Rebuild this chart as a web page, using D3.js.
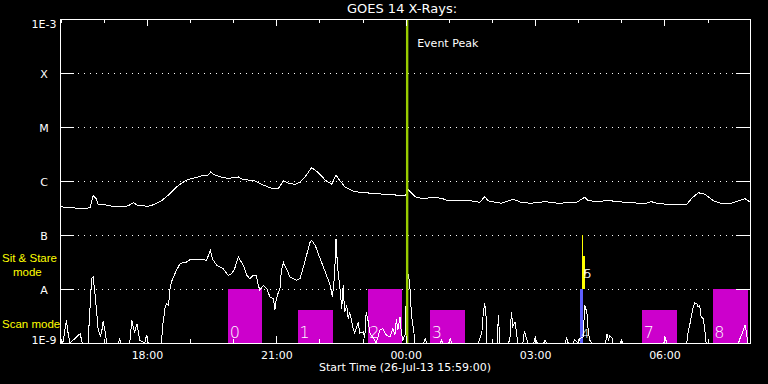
<!DOCTYPE html>
<html><head><meta charset="utf-8">
<script src="https://cdn.jsdelivr.net/npm/d3@7"></script>
<style>html,body{margin:0;padding:0;background:#000;}svg{display:block;}</style>
</head><body>
<svg id="chart" width="768" height="384"></svg>
<script>
// ---------- data ----------
const chartTitle = "GOES 14 X-Rays:";
const startLabel = "Start Time (26-Jul-13 15:59:00)";
const startStamp = "2013-07-26 15:59";
const endStamp = "2013-07-27 07:59";
const yTickValues = [1e-3, 1e-4, 1e-5, 1e-6, 1e-7, 1e-8, 1e-9];
const yTickLabels = ["1E-3", "X", "M", "C", "B", "A", "1E-9"];
const gridValues = [1e-4, 1e-5, 1e-6, 1e-7, 1e-8];
const eventPeakTime = "00:02";
const eventPeakLabel = "Event Peak";
const stareLabel = ["Sit & Stare", "mode"];
const scanLabel = "Scan mode";

// long channel (1-8 A): [time, flux W/m^2]
const longChannel = [
["15:59",3.34e-7],["16:20",3.16e-7],["16:34",3.12e-7],["16:41",3.2e-7],["16:43",4.14e-7],["16:45",5.35e-7],
["16:49",4.78e-7],["16:52",3.71e-7],["17:02",3.6e-7],["17:16",3.34e-7],["17:29",3.3e-7],["17:36",3.6e-7],
["17:41",3.96e-7],["17:46",3.6e-7],["17:53",3.49e-7],["18:02",3.4e-7],["18:11",3.71e-7],["18:20",4.27e-7],
["18:30",5.51e-7],["18:39",7.33e-7],["18:48",9.06e-7],["18:57",1.07e-6],["19:07",1.15e-6],["19:16",1.24e-6],
["19:25",1.29e-6],["19:29",1.49e-6],["19:32",1.33e-6],["19:44",1.17e-6],["19:53",1.12e-6],["20:07",1.19e-6],
["20:12",1.09e-6],["20:30",1.0e-6],["20:44",8.19e-7],["20:56",7.11e-7],["21:03",7.33e-7],["21:10",1.0e-6],
["21:17",9.06e-7],["21:26",8.69e-7],["21:33",9.46e-7],["21:40",1.2e-6],["21:49",1.76e-6],["21:58",1.45e-6],
["22:08",1.04e-6],["22:17",8.69e-7],["22:23",1.29e-6],["22:26",1.12e-6],["22:35",7.84e-7],["22:49",6.34e-7],
["23:13",5.91e-7],["23:31",5.68e-7],["23:59",5.35e-7],["00:04",6.81e-7],["00:13",5.12e-7],["00:22",4.78e-7],
["00:41",4.91e-7],["00:50",4.78e-7],["00:59",4.31e-7],["01:32",4.27e-7],["01:43",4.04e-7],["01:50",5.12e-7],
["01:55",4.27e-7],["02:13",3.87e-7],["02:30",4.58e-7],["02:39",4.09e-7],["02:53",3.87e-7],["03:14",4.14e-7],
["03:32",3.87e-7],["03:58",4.04e-7],["04:09",4.99e-7],["04:14",4.31e-7],["04:30",4.14e-7],["04:40",4.44e-7],
["04:53",4.14e-7],["05:17",3.96e-7],["05:31",3.75e-7],["05:42",4.14e-7],["05:49",3.87e-7],["06:03",3.71e-7],
["06:31",3.71e-7],["06:38",4.78e-7],["06:47",6.07e-7],["06:56",5.68e-7],["07:08",4.31e-7],["07:22",3.75e-7],
["07:33",3.87e-7],["07:52",4.7e-7],["07:59",4.09e-7]
];

// short channel (0.5-4 A): [time, flux W/m^2]
const shortChannel = [
["15:59",1e-9],["16:01",1.13e-9],["16:03",1e-9],["16:08",2.63e-9],["16:10",1.6e-9],["16:13",1e-9],["16:27",1.49e-9],
["16:30",1e-9],["16:38",1e-9],["16:43",1.55e-8],["16:45",1.67e-8],["16:48",7.64e-9],["16:50",3.75e-9],["16:52",1.84e-9],
["16:55",1.35e-9],["16:57",1.6e-9],["16:59",2.52e-9],["17:02",1.6e-9],["17:04",1e-9],["17:20",1e-9],["17:22",1.17e-9],
["17:24",1e-9],["17:36",1e-9],["17:39",2.63e-9],["17:41",1.9e-9],["17:43",1.6e-9],["17:46",2.28e-9],["17:48",1.6e-9],
["17:50",1.13e-9],["17:57",1e-9],["17:59",1.39e-9],["18:02",1e-9],["18:20",1e-9],["18:22",2.13e-9],["18:25",4.32e-9],
["18:27",5.34e-9],["18:30",5e-9],["18:32",1.01e-8],["18:34",1.35e-8],["18:37",1.67e-8],["18:41",2.22e-8],["18:46",2.94e-8],
["18:50",3.07e-8],["18:55",3.16e-8],["18:59",3.44e-8],["19:04",3.55e-8],["19:14",3.55e-8],["19:23",3.4e-8],["19:28",5.21e-8],
["19:31",3.64e-8],["19:37",2.75e-8],["19:46",2.38e-8],["19:53",1.79e-8],["19:58",1.92e-8],["20:02",2.38e-8],["20:07",3.91e-8],
["20:14",2.75e-8],["20:19",1.79e-8],["20:23",1.55e-8],["20:28",1.79e-8],["20:32",1.8e-8],["20:35",1.17e-8],["20:37",9.46e-9],
["20:42",1.17e-8],["20:47",1.01e-8],["20:51",7.11e-9],["20:56",6.61e-9],["20:58",4.03e-9],["21:00",6.61e-9],["21:03",8.8e-9],
["21:05",1.01e-8],["21:07",2.22e-8],["21:10",3.07e-8],["21:14",2.38e-8],["21:19",1.67e-8],["21:24",1.55e-8],["21:28",1.45e-8],
["21:33",1.55e-8],["21:37",2.38e-8],["21:42",4.21e-8],["21:47",7.41e-8],["21:49",7.98e-8],["21:54",6.45e-8],["22:01",3.64e-8],
["22:08",2.07e-8],["22:15",1.17e-8],["22:18",7.11e-9],["22:21",1.79e-8],["22:23",8.54e-8],["22:25",2.75e-8],["22:29",8.8e-9],
["22:31",4.32e-9],["22:33",1.17e-8],["22:35",3.75e-9],["22:38",4.99e-9],["22:40",2.82e-9],["22:42",3.75e-9],["22:47",1.84e-9],
["22:49",1.53e-9],["22:54",2.45e-9],["22:56",1.53e-9],["23:01",1.6e-9],["23:03",1.24e-9],["23:05",3.75e-9],["23:08",2.45e-9],
["23:10",1.53e-9],["23:14",1.29e-9],["23:19",1e-9],["23:24",1.72e-9],["23:28",1.84e-9],["23:33",1.4e-9],["23:38",1.29e-9],
["23:42",1.84e-9],["23:45",1.4e-9],["23:47",2.82e-9],["23:49",1.74e-9],["23:52",3.03e-9],["23:54",1.53e-9],["23:56",1.13e-9],
["23:59",1.4e-9],["00:02",2.0e-8],["00:04",1.79e-8],["00:06",1.01e-8],["00:08",3.26e-9],["00:11",1.74e-9],["00:13",1e-9],
["00:25",1e-9],["00:27",1.2e-9],["00:29",1e-9],["00:48",1e-9],["00:50",1.13e-9],["00:52",1e-9],["01:00",1e-9],["01:02",1.2e-9],
["01:04",1e-9],["01:41",1e-9],["01:43",1.2e-9],["01:46",1.6e-9],["01:48",3.75e-9],["01:50",5.5e-9],["01:52",2.82e-9],
["01:53",1e-9],["02:07",1e-9],["02:09",3.26e-9],["02:11",1e-9],["02:23",1e-9],["02:25",1.2e-9],["02:27",3.75e-9],["02:29",2.06e-9],
["02:32",2.45e-9],["02:34",1.6e-9],["02:36",1e-9],["02:43",1e-9],["02:45",1.65e-9],["02:47",1.35e-9],["02:50",1e-9],["02:58",1e-9],
["03:00",1.24e-9],["03:03",1e-9],["03:12",1e-9],["03:14",1.13e-9],["03:16",1e-9],["03:42",1e-9],["03:44",1.24e-9],["03:46",1e-9],
["03:53",1e-9],["03:55",1.13e-9],["04:00",1e-9],["04:02",1.2e-9],["04:07",1.29e-9],["04:09",4.99e-9],["04:12",3.75e-9],
["04:14",1.6e-9],["04:16",1.13e-9],["04:19",1e-9],["04:38",1e-9],["04:40",1.49e-9],["04:42",1.13e-9],["04:44",1.35e-9],
["04:47",1.24e-9],["04:48",1e-9],["04:58",1e-9],["05:00",1.13e-9],["05:02",1e-9],["05:59",1e-9],["06:01",1.29e-9],["06:03",1e-9],
["06:31",1e-9],["06:33",1.6e-9],["06:36",2.45e-9],["06:38",3.49e-9],["06:40",4.64e-9],["06:42",5.58e-9],["06:45",5.34e-9],
["06:47",4.64e-9],["06:49",4.99e-9],["06:51",3.03e-9],["06:54",2.82e-9],["06:56",1.84e-9],["06:58",1e-9],["07:43",1e-9],
["07:45",1.2e-9],["07:49",1.6e-9],["07:52",2.13e-9],["07:54",1.6e-9],["07:56",1e-9],["07:59",1e-9]
];

// observation blocks
const blockLabels = ["0", "1", "2", "3", "4", "5", "6", "7", "8"];
const blockStart  = ["19:53", "21:30", "23:07", "00:34", "04:02", "04:05", "04:05", "05:29", "07:07"];
const blockEnd    = ["20:40", "22:19", "23:55", "01:22", "04:06", "04:07", "04:09", "06:17", "07:56"];
const blockLow    = [1e-9, 1e-9, 1e-9, 1e-9, 1e-9, 1e-8, 1e-8, 1e-9, 1e-9];
const blockHigh   = [1e-8, 4.1e-9, 1e-8, 4.1e-9, 1e-8, 1e-7, 4.1e-8, 4.1e-9, 1e-8];
const blockKind   = ["scan", "scan", "scan", "scan", "other", "stare", "stare", "scan", "scan"];

// ---------- drawing ----------
const FONT = "'DejaVu Sans', sans-serif";
const FONT2 = "'Liberation Sans', Arial, sans-serif";
const kindColor = {scan: "#cc00cc", other: "#5f5fff", stare: "#ffff00"};
const L = 60, R = 750, T = 19, B = 343;

const parseStamp = d3.timeParse("%Y-%m-%d %H:%M");
const t0 = parseStamp(startStamp), t1 = parseStamp(endStamp);
function parseClock(s) {
  const h = +s.slice(0, 2);
  const day = h < 12 ? "2013-07-27" : "2013-07-26";
  return parseStamp(day + " " + s);
}

const x = d3.scaleTime().domain([t0, t1]).range([L, R]);
const y = d3.scaleLog().domain([1e-9, 1e-3]).range([B, T]).clamp(true);

const svg = d3.select("#chart");
svg.append("rect").attr("width", 768).attr("height", 384).attr("fill", "#000");

svg.append("defs").append("clipPath").attr("id", "plot")
  .append("rect").attr("x", L).attr("y", T).attr("width", R - L).attr("height", B - T);

// gridlines
svg.append("g").selectAll("line").data(gridValues).join("line")
  .attr("x1", L).attr("x2", R)
  .attr("y1", d => Math.round(y(d)) + 0.5).attr("y2", d => Math.round(y(d)) + 0.5)
  .attr("stroke", "#fff").attr("stroke-dasharray", "1,5")
  .attr("shape-rendering", "crispEdges");

// blocks
const blocks = blockLabels.map((lab, i) => ({
  lab, s: parseClock(blockStart[i]), e: parseClock(blockEnd[i]),
  lo: blockLow[i], hi: blockHigh[i], kind: blockKind[i]
}));
svg.append("g").attr("clip-path", "url(#plot)").selectAll("rect").data(blocks).join("rect")
  .attr("x", d => x(d.s)).attr("width", d => x(d.e) - x(d.s))
  .attr("y", d => y(d.hi)).attr("height", d => y(d.lo) - y(d.hi))
  .attr("fill", d => kindColor[d.kind])
  .attr("shape-rendering", "crispEdges");

// curves
const line = d3.line().x(d => x(parseClock(d[0]))).y(d => y(d[1]));
const curves = svg.append("g").attr("clip-path", "url(#plot)");
[longChannel, shortChannel].forEach(series => {
  curves.append("path").datum(series).attr("d", line)
    .attr("fill", "none").attr("stroke", "#fff").attr("stroke-width", 1)
    .attr("shape-rendering", "crispEdges");
});

// block labels
svg.append("g").selectAll("text").data(blocks).join("text")
  .attr("x", d => x(d.s) + 1.5)
  .attr("y", d => y(d.lo) - (d.lo > 1e-9 ? 11 : 5))
  .attr("fill", "#fff")
  .attr("font-family", FONT)
  .attr("font-weight", 200)
  .attr("font-size", d => (x(d.e) - x(d.s) > 10 ? 16 : 13))
  .text(d => d.lab);

// event peak
const tp = parseClock(eventPeakTime);
svg.append("line").attr("x1", x(tp)).attr("x2", x(tp)).attr("y1", T).attr("y2", B)
  .attr("stroke", "#99cc00").attr("stroke-width", 2.4);
svg.append("text").attr("x", x(tp) + 10).attr("y", 46.5).attr("fill", "#fff")
  .attr("font-family", FONT).attr("font-size", 11).text(eventPeakLabel);

// axes
function styleAxis(g) {
  g.selectAll("path.domain").attr("stroke", "#fff").attr("shape-rendering", "crispEdges");
  g.selectAll(".tick line").attr("stroke", "#fff").attr("shape-rendering", "crispEdges");
  g.selectAll("text").attr("fill", "#fff").attr("font-family", FONT).attr("font-size", 11);
}
const hourly = d3.timeHour.every(1), threeHourly = d3.timeHour.every(3);

svg.append("g").attr("transform", `translate(0,${B})`)
  .call(d3.axisBottom(x).ticks(hourly).tickSize(-4).tickSizeOuter(0).tickFormat(""))
  .call(styleAxis);
svg.append("g").attr("transform", `translate(0,${B})`)
  .call(d3.axisBottom(x).ticks(threeHourly).tickSize(-7).tickSizeOuter(0)
    .tickPadding(8).tickFormat(d3.timeFormat("%H:%M")))
  .call(styleAxis);
svg.append("g").attr("transform", `translate(0,${T})`)
  .call(d3.axisTop(x).ticks(hourly).tickSize(-4).tickSizeOuter(0).tickFormat(""))
  .call(styleAxis);
svg.append("g").attr("transform", `translate(0,${T})`)
  .call(d3.axisTop(x).ticks(threeHourly).tickSize(-7).tickSizeOuter(0).tickFormat(""))
  .call(styleAxis);

const leftAxis = svg.append("g").attr("transform", `translate(${L},0)`)
  .call(d3.axisLeft(y).tickValues(yTickValues).tickSize(-14).tickSizeOuter(0)
    .tickFormat((d, i) => yTickLabels[i]))
  .call(styleAxis);
leftAxis.selectAll(".tick text")
  .attr("text-anchor", "middle").attr("x", -16).attr("dy", null)
  .attr("y", (d) => {
    const py = y(d);
    return Math.min(Math.max(py + 4.5, T + 8), B) - py;
  });
svg.append("g").attr("transform", `translate(${R},0)`)
  .call(d3.axisRight(y).tickValues(yTickValues).tickSize(-14).tickSizeOuter(0).tickFormat(""))
  .call(styleAxis);

// titles
svg.append("text").attr("x", 402).attr("y", 13).attr("text-anchor", "middle")
  .attr("fill", "#fff").attr("font-family", FONT).attr("font-size", 13).text(chartTitle);
svg.append("text").attr("x", 405).attr("y", 371).attr("text-anchor", "middle")
  .attr("fill", "#fff").attr("font-family", FONT).attr("font-size", 11).text(startLabel);

// mode labels
svg.append("text").attr("x", 2).attr("y", 262).attr("fill", "#ffff00")
  .attr("font-family", FONT2).attr("font-size", 11.5).text(stareLabel[0]);
svg.append("text").attr("x", 13).attr("y", 276).attr("fill", "#ffff00")
  .attr("font-family", FONT2).attr("font-size", 11.5).text(stareLabel[1]);
svg.append("text").attr("x", 2).attr("y", 327.5).attr("fill", "#ffff00")
  .attr("font-family", FONT2).attr("font-size", 11.5).text(scanLabel);
</script>
</body></html>
